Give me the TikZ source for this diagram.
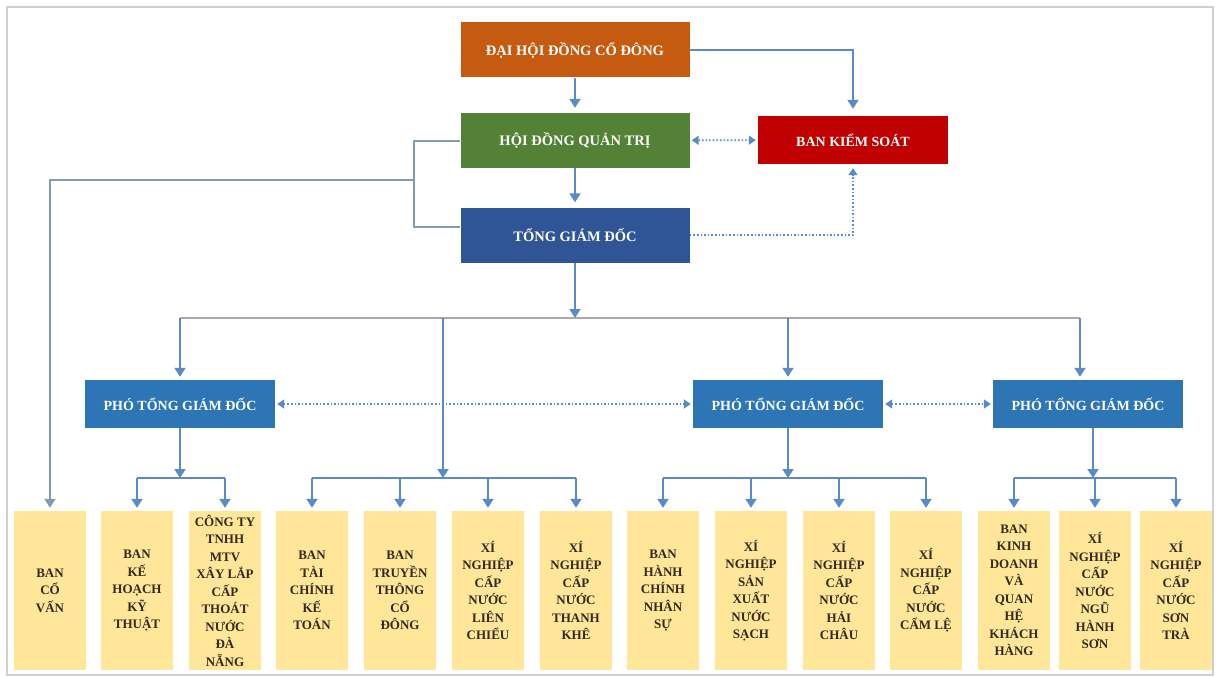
\documentclass[tikz,border=0pt]{standalone}
\usepackage{fontspec}
\setmainfont{Liberation Serif}
\usepackage{tikz}
\usetikzlibrary{arrows.meta,positioning,calc}
\usepackage{xcolor}
\definecolor{dhorange}{HTML}{C55A11}
\definecolor{qtgreen}{HTML}{538135}
\definecolor{tgdblue}{HTML}{2F5597}
\definecolor{ksred}{HTML}{C00000}
\definecolor{ptblue}{HTML}{2E75B6}
\definecolor{boxyellow}{HTML}{FFE699}
\definecolor{boxtext}{HTML}{33291A}
\definecolor{linkblue}{HTML}{5A8BC6}
\definecolor{linkgray}{HTML}{7F9DB2}
\definecolor{busgray}{HTML}{A9A9A9}
\definecolor{framegray}{HTML}{CFCFCF}

\begin{document}
\begin{tikzpicture}[x=1pt, y=-1pt,
    topbox/.style={minimum width=229pt, minimum height=55pt, inner sep=0pt, text=white, font=\bfseries\fontsize{14.5}{17}\selectfont},
    ksbox/.style={minimum width=190pt, minimum height=48pt, inner sep=0pt, text=white, fill=ksred, font=\bfseries\fontsize{14}{17}\selectfont},
    ptbox/.style={minimum width=190pt, minimum height=48pt, inner sep=0pt, text=white, fill=ptblue, font=\bfseries\fontsize{14}{17}\selectfont},
    unit/.style={fill=boxyellow, minimum width=72pt, minimum height=159pt, inner sep=1pt, align=center, text=boxtext, font=\bfseries\fontsize{13}{17.5}\selectfont},
    arr/.style={-{Triangle[length=9pt, width=11pt]}, line width=2pt, draw=linkblue, shorten >=3pt},
    link/.style={line width=2pt, draw=linkblue},
    dotarr/.style={{Triangle[length=7pt, width=9pt]}-{Triangle[length=7pt, width=9pt]}, dotted, line width=1.6pt, draw=linkblue, shorten >=2pt, shorten <=2pt},
    dotone/.style={-{Triangle[length=7pt, width=9pt]}, dotted, line width=1.6pt, draw=linkblue, shorten >=4pt}
]
\useasboundingbox (0,0) rectangle (1219,677);
\draw[framegray, line width=1.5pt] (7,7) rectangle (1213,675);

% top levels
\node[topbox, fill=dhorange] (dhcd) at (575,50) {ĐẠI HỘI ĐỒNG CỔ ĐÔNG};
\node[topbox, fill=qtgreen] (hdqt) at (575,140.5) {HỘI ĐỒNG QUẢN TRỊ};
\node[topbox, fill=tgdblue] (tgd) at (575,235) {TỔNG GIÁM ĐỐC};
\node[ksbox] (bks) at (853,140) {BAN KIỂM SOÁT};

% deputies
\node[ptbox] (pt1) at (180,404) {PHÓ TỔNG GIÁM ĐỐC};
\node[ptbox] (pt2) at (788,404) {PHÓ TỔNG GIÁM ĐỐC};
\node[ptbox] (pt3) at (1088,404) {PHÓ TỔNG GIÁM ĐỐC};

% units
\node[unit] (bcv) at (50,590.5) {BAN\\CỐ\\VẤN};
\node[unit] (bkh) at (137,590.5) {BAN\\KẾ\\HOẠCH\\KỸ\\THUẬT};
\node[unit] (cty) at (225,590.5) {CÔNG TY\\TNHH\\MTV\\XÂY LẮP\\CẤP\\THOÁT\\NƯỚC\\ĐÀ\\NẴNG};
\node[unit] (btc) at (312,590.5) {BAN\\TÀI\\CHÍNH\\KẾ\\TOÁN};
\node[unit] (btt) at (400,590.5) {BAN\\TRUYỀN\\THÔNG\\CỔ\\ĐÔNG};
\node[unit] (xlc) at (488,590.5) {XÍ\\NGHIỆP\\CẤP\\NƯỚC\\LIÊN\\CHIỂU};
\node[unit] (xtk) at (576,590.5) {XÍ\\NGHIỆP\\CẤP\\NƯỚC\\THANH\\KHÊ};
\node[unit] (bhc) at (663,590.5) {BAN\\HÀNH\\CHÍNH\\NHÂN\\SỰ};
\node[unit] (xsx) at (751,590.5) {XÍ\\NGHIỆP\\SẢN\\XUẤT\\NƯỚC\\SẠCH};
\node[unit] (xhc) at (839,590.5) {XÍ\\NGHIỆP\\CẤP\\NƯỚC\\HẢI\\CHÂU};
\node[unit] (xcl) at (926,590.5) {XÍ\\NGHIỆP\\CẤP\\NƯỚC\\CẨM LỆ};
\node[unit] (bkd) at (1014,590.5) {BAN\\KINH\\DOANH\\VÀ\\QUAN\\HỆ\\KHÁCH\\HÀNG};
\node[unit] (xnh) at (1095,590.5) {XÍ\\NGHIỆP\\CẤP\\NƯỚC\\NGŨ\\HÀNH\\SƠN};
\node[unit] (xst) at (1176,590.5) {XÍ\\NGHIỆP\\CẤP\\NƯỚC\\SƠN\\TRÀ};

% junction points
\coordinate (brk) at (414,180);
\coordinate (bus) at (575,318);
\coordinate (b2) at (443,318);
\coordinate (b3) at (1080,318);
\coordinate (g1) at (180,478);
\coordinate (g2) at (443,478);
\coordinate (g3) at (788,478);
\coordinate (g4) at (1093,478);

% top connectors
\draw[arr, shorten >=5pt] (dhcd) -- (hdqt);
\draw[arr, shorten >=5pt] (hdqt) -- (tgd);
\draw[arr, shorten >=7pt] (dhcd.east) -| (bks);
\draw[dotarr] (hdqt) -- (bks);
\draw[dotone] (tgd.east) -| (bks);
\draw[link, draw=linkgray] (hdqt.west) -| (brk) |- ([yshift=8pt]tgd.west);
\draw[arr, draw=linkgray] (brk) -| (bcv);

% main bus
\draw[arr, shorten >=0pt] (tgd) -- (bus);
\draw[busgray, line width=2pt] (pt1 |- bus) -- (b3);
\draw[arr] (pt1 |- bus) -- (pt1);
\draw[arr, shorten >=0pt] (b2) -- (g2);
\draw[arr] (pt2 |- bus) -- (pt2);
\draw[arr] (b3) -- (b3 |- pt3.north);
\draw[dotarr] (pt1) -- (pt2);
\draw[dotarr] (pt2) -- (pt3);

% group buses
\draw[arr, shorten >=0pt] (pt1) -- (g1);
\draw[link] (g1 -| bkh) -- (g1 -| cty);
\draw[arr] (g1 -| bkh) -- (bkh);
\draw[arr] (g1 -| cty) -- (cty);

\draw[link] (g2 -| btc) -- (g2 -| xtk);
\draw[arr] (g2 -| btc) -- (btc);
\draw[arr] (g2 -| btt) -- (btt);
\draw[arr] (g2 -| xlc) -- (xlc);
\draw[arr] (g2 -| xtk) -- (xtk);

\draw[arr, shorten >=0pt] (pt2) -- (g3);
\draw[link] (g3 -| bhc) -- (g3 -| xcl);
\draw[arr] (g3 -| bhc) -- (bhc);
\draw[arr] (g3 -| xsx) -- (xsx);
\draw[arr] (g3 -| xhc) -- (xhc);
\draw[arr] (g3 -| xcl) -- (xcl);

\draw[arr, shorten >=0pt] (pt3.south -| g4) -- (g4);
\draw[link] (g4 -| bkd) -- (g4 -| xst);
\draw[arr] (g4 -| bkd) -- (bkd);
\draw[arr] (g4 -| xnh) -- (xnh);
\draw[arr] (g4 -| xst) -- (xst);
\end{tikzpicture}
\end{document}
